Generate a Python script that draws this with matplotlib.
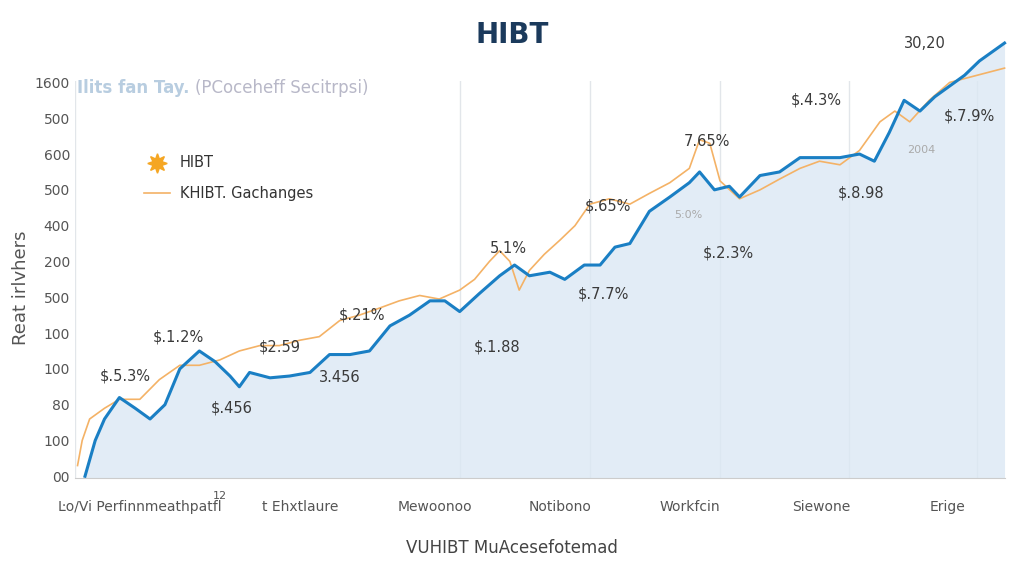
import matplotlib.pyplot as plt
import numpy as np

ytick_labels = ["00", "100", "80", "100", "100", "500", "200", "400", "500", "600", "500", "1600"]
xtick_labels = ["Ŀo/Vi Perfinnmeathpatfl", "t Ehxtlaure", "Mewoonoo", "Notibono", "Workfcin", "Siewone", "Erige"]
xtick_pos = [7.0, 24.2, 38.7, 52.2, 66.1, 80.3, 93.9]
xgrid_pos = [0, 41.4, 55.4, 69.4, 83.3, 97.0]

blue_x = [1.1, 2.2, 3.2, 4.8, 6.5, 8.1, 9.7, 11.3, 13.4, 15.1, 16.7, 17.7, 18.8, 21.0, 23.1, 25.3, 27.4,
          29.6, 31.7, 33.9, 36.0, 38.2, 39.8, 41.4, 43.5, 45.7, 47.3, 48.9, 51.1, 52.7, 54.8, 56.5, 58.1,
          59.7, 61.8, 64.0, 66.1, 67.2, 68.8, 70.4, 71.5, 73.7, 75.8, 78.0, 80.1, 82.3, 84.4, 86.0, 87.6,
          89.2, 90.9, 92.5, 94.1, 95.7, 97.3, 100.0]
blue_y = [0.0, 1.0, 1.6, 2.2, 1.9, 1.6, 2.0, 3.0, 3.5, 3.2, 2.8, 2.5, 2.9, 2.75, 2.8, 2.9, 3.4, 3.4,
          3.5, 4.2, 4.5, 4.9, 4.9, 4.6, 5.1, 5.6, 5.9, 5.6, 5.7, 5.5, 5.9, 5.9, 6.4, 6.5, 7.4, 7.8, 8.2,
          8.5, 8.0, 8.1, 7.8, 8.4, 8.5, 8.9, 8.9, 8.9, 9.0, 8.8, 9.6, 10.5, 10.2, 10.6, 10.9, 11.2, 11.6, 12.1]

orange_x = [0.3, 0.8, 1.6, 3.2, 4.8, 7.0, 9.1, 11.3, 13.4, 15.6, 17.7, 19.9, 22.0, 24.2, 26.3, 28.5,
            30.6, 32.8, 34.9, 37.1, 39.2, 41.4, 43.0, 44.6, 45.7, 46.8, 47.8, 48.9, 50.5, 52.2, 53.8,
            55.4, 57.5, 59.7, 61.8, 64.0, 66.1, 67.2, 68.3, 69.4, 71.5, 73.7, 75.8, 78.0, 80.1, 82.3,
            84.4, 86.6, 88.2, 89.8, 91.9, 94.1, 100.0]
orange_y = [0.3, 1.0, 1.6, 1.9, 2.15, 2.15, 2.7, 3.1, 3.1, 3.25, 3.5, 3.65, 3.65, 3.8, 3.9, 4.35,
            4.5, 4.7, 4.9, 5.05, 4.95, 5.2, 5.5, 6.0, 6.3, 6.0, 5.2, 5.75, 6.2, 6.6, 7.0, 7.6, 7.75,
            7.6, 7.9, 8.2, 8.6, 9.4, 9.3, 8.25, 7.75, 8.0, 8.3, 8.6, 8.8, 8.7, 9.1, 9.9, 10.2, 9.9,
            10.5, 11.0, 11.4]

ann_text = ["$.5.3%", "$.1.2%", "$.456", "$2.59", "3.456", "$.21%", "$.1.88", "5.1%", "$.7.7%",
            "$.65%", "7.65%", "$.2.3%", "$.4.3%", "$.8.98", "$.7.9%", "30,20", "2004", "5:0%"]
ann_x = [5.4, 11.1, 16.9, 22.0, 28.5, 30.9, 45.4, 46.6, 56.9, 57.3, 68.0, 70.3, 79.8, 84.6, 96.2, 91.4, 91.0, 66.0]
ann_y = [2.8, 3.9, 1.9, 3.6, 2.75, 4.5, 3.6, 6.35, 5.1, 7.55, 9.35, 6.25, 10.5, 7.9, 10.05, 12.1, 9.1, 7.3]

fig = plt.figure(figsize=(10.24, 5.76), dpi=100)
ax = fig.add_axes([0.073, 0.17, 0.908, 0.69])
ax.set_xlim(0, 100)
ax.set_ylim(-0.05, 11.05)

ax.fill_between(blue_x, blue_y, -0.05, color="#dbe8f4", alpha=0.8, lw=0, clip_on=False)
ax.plot(orange_x, orange_y, color="#f4b266", lw=1.2, clip_on=False, label="KHIBT. Gachanges")
ax.plot(blue_x, blue_y, color="#1a7fc4", lw=2.2, clip_on=False)

for t, x, y in zip(ann_text, ann_x, ann_y):
    c = "#aaaaaa" if t in ("2004", "5:0%") else "#3a3a3a"
    fs = 8 if c == "#aaaaaa" else 10.5
    ax.text(x, y, t, ha="center", va="center", fontsize=fs, color=c, clip_on=False)

ax.set_yticks(range(len(ytick_labels)))
ax.set_yticklabels(ytick_labels)
ax.set_xticks(xtick_pos)
ax.set_xticklabels(xtick_labels)
ax.tick_params(length=0, labelsize=10, colors="#555555")
ax.tick_params(axis="x", pad=16)
for xg in xgrid_pos:
    ax.axvline(xg, color="#e2e6ea", lw=1, zorder=0)
for s in ["top", "right", "left"]:
    ax.spines[s].set_visible(False)
ax.spines["bottom"].set_color("#cccccc")
ax.text(15.6, -0.4, "12", fontsize=8, color="#555555", ha="center", va="top")

ax.plot([8.8], [8.75], marker=(8, 1, 0), ms=14, color="#f5a623", ls="none", label="HIBT")
ax.text(11.3, 8.75, "HIBT", fontsize=10.5, color="#333333", va="center")
ax.plot([7.5, 10.2], [7.9, 7.9], color="#f4b266", lw=1.2)
ax.text(11.3, 7.9, "KHIBT. Gachanges", fontsize=10.5, color="#333333", va="center")

fig.text(0.5, 0.94, "HIBT", fontsize=20, fontweight="bold", color="#1b3a5c", ha="center", va="center")
fig.text(0.075, 0.848, "Ilits fan Tay.", fontsize=12, fontweight="bold", color="#b8cde0", va="center")
fig.text(0.19, 0.848, "(PCoceheff Secitrpsi)", fontsize=12, color="#b8b8c8", va="center")
fig.text(0.012, 0.5, "Reat irlvhers", fontsize=13, color="#555555", rotation=90, va="center")
fig.text(0.5, 0.04, "VUHIBT MuAcesefotemad", fontsize=12, color="#444444", ha="center")

fig.savefig("out.png")
